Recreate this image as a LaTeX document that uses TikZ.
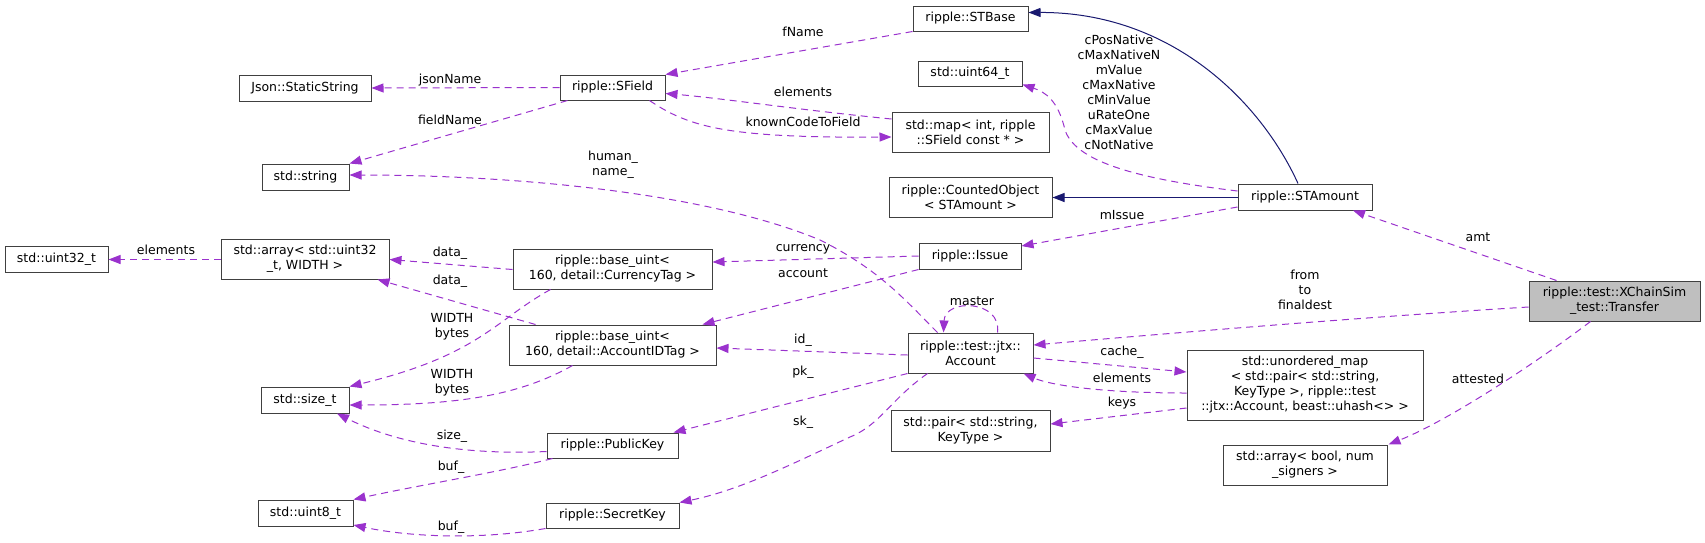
\documentclass[tikz,border=0pt]{standalone}
\usepackage{fontspec}
\setmainfont{DejaVu Sans}
\usetikzlibrary{arrows.meta}
\definecolor{cUse}{HTML}{9A32CD}
\definecolor{cInh}{HTML}{191970}
\definecolor{cBox}{HTML}{404040}
\definecolor{cSel}{HTML}{BFBFBF}
\tikzset{
  cls/.style={draw=cBox,line width=1pt,fill=white,inner sep=0pt,align=center,font=\fontsize{12.5}{15}\selectfont},
  lbl/.style={inner sep=0pt,align=center,font=\fontsize{12.5}{15}\selectfont},
  use/.style={cUse,line width=1pt,dash pattern=on 7pt off 5pt,-{Triangle[length=12pt,width=9pt]}},
  inh/.style={cInh,line width=1pt,-{Triangle[length=12pt,width=9pt]}}}
\newcommand{\cls}[5][]{\node[cls,minimum width=#3pt,minimum height=#4pt,#1] (#2) at (#5)}

\begin{document}
\begin{tikzpicture}[x=1pt,y=-1pt]
  \useasboundingbox (0,0) rectangle (1705,542);
  % class boxes, pixel positions
  \cls{json}{132}{26}{305,88} {Json::StaticString};
  \cls{sfield}{105}{25}{612.5,87.5} {ripple::SField};
  \cls{stbase}{115}{25}{970.5,18.5} {ripple::STBase};
  \cls{uint64}{104}{25}{970,73.5} {std::uint64\_t};
  \cls{stdmap}{157}{40}{970.5,132} {std::map< int, ripple\\::SField const * >};
  \cls{counted}{163}{40}{970.5,197} {ripple::CountedObject\\< STAmount >};
  \cls{stamount}{134}{26}{1305,197} {ripple::STAmount};
  \cls{issue}{102}{26}{970,256} {ripple::Issue};
  \cls{stdstring}{87}{26}{305.5,177} {std::string};
  \cls{uint32}{103}{26}{56.5,259} {std::uint32\_t};
  \cls{array32}{168}{40}{305,259} {std::array< std::uint32\\\_t, WIDTH >};
  \cls{currency}{199}{40}{612.5,269} {ripple::base\_uint<\\160, detail::CurrencyTag >};
  \cls{accountid}{207}{40}{612.5,345} {ripple::base\_uint<\\160, detail::AccountIDTag >};
  \cls{sizet}{88}{26}{305,400} {std::size\_t};
  \cls{uint8}{95}{26}{305.5,513} {std::uint8\_t};
  \cls{pubkey}{131}{25}{612.5,445.5} {ripple::PublicKey};
  \cls{seckey}{133}{25}{612.5,515.5} {ripple::SecretKey};
  \cls{account}{125}{40}{970.5,353} {ripple::test::jtx::\\Account};
  \cls{pair}{159}{41}{970.5,430.5} {std::pair< std::string,\\KeyType >};
  \cls{umap}{236}{70}{1305,385} {std::unordered\_map\\< std::pair< std::string,\\KeyType >, ripple::test\\::jtx::Account, beast::uhash<> >};
  \cls[fill=cSel]{transfer}{171}{40}{1614.5,301} {ripple::test::XChainSim\\\_test::Transfer};
  \cls{arrbool}{164}{40}{1305,465} {std::array< bool, num\\\_signers >};

  % inheritance
  \draw[inh] ([xshift=-7pt]stamount.north) .. controls (1260,100) and (1170,12) .. ([yshift=6pt]stbase.east);
  \draw[inh] ([yshift=-0.5pt]stamount.west) -- ([yshift=-0.5pt]counted.east);

  % members
  \draw[use] (stbase.south west) -- (sfield.north east);
  \draw[use] (sfield.west) -- (json.east);
  \draw[use] ([xshift=8pt]sfield.south west) -- (stdstring.north east);
  \draw[use] ([yshift=13pt]stdmap.west) .. controls (800,110) and (720,98) .. ([yshift=-6pt]sfield.east);
  \draw[use] ([xshift=37pt]sfield.south) .. controls (690,128) and (730,138) .. ([yshift=-5pt]stdmap.west);
  \draw[use] ([yshift=6pt]stamount.west) .. controls (1130,178) and (1075,160) .. (1065,130)
    .. controls (1058,100) and (1045,92) .. ([yshift=-11pt]uint64.east);
  \draw[use] ([yshift=-10pt]stamount.west) -- ([yshift=10pt]issue.east);
  \draw[use] ([xshift=-58pt]transfer.north) -- ([xshift=48pt]stamount.south);
  \draw[use] (issue.west) -- ([yshift=7pt]currency.east);
  \draw[use] (issue.south west) -- ([xshift=-14pt]accountid.north east);
  \draw[use] ([yshift=-0.5pt]currency.west) -- ([yshift=-0.5pt]array32.east);
  \draw[use] ([xshift=-77pt]accountid.north) -- ([xshift=-12pt]array32.south east);
  \draw[use] ([xshift=-62pt]currency.south) .. controls (495,320) and (480,355) .. (sizet.north east);
  \draw[use] ([xshift=-40pt]accountid.south) .. controls (520,395) and (460,405) .. ([yshift=-5pt]sizet.east);
  \draw[use] ([yshift=-6pt]pubkey.west) .. controls (470,455) and (400,445) .. ([xshift=32pt]sizet.south);
  \draw[use] ([xshift=6pt]pubkey.south west) .. controls (500,472) and (420,485) .. (uint8.north east);
  \draw[use] (seckey.south west) .. controls (480,540) and (410,537) .. ([yshift=-12pt]uint8.east);
  \draw[use] ([xshift=-33pt]account.north) .. controls (905,300) and (880,270) .. (820,240)
    .. controls (700,190) and (500,175) .. ([yshift=2pt]stdstring.east);
  \draw[use] ([yshift=-2pt]account.west) -- ([yshift=-3pt]accountid.east);
  \draw[use] (account.south west) -- ([xshift=-5pt]pubkey.north east);
  \draw[use] ([xshift=-43pt]account.south) .. controls (890,400) and (880,425) .. (850,437)
    .. controls (790,465) and (740,490) .. (seckey.north east);
  \draw[use] ([xshift=27pt]account.north) .. controls (1002,300) and (945,298) .. ([xshift=-27pt]account.north);
  \draw[use] ([yshift=-5pt]account.east) -- ([yshift=13pt]umap.west);
  \draw[use] ([yshift=-8pt]umap.west) .. controls (1100,393) and (1050,385) .. ([xshift=-10pt]account.south east);
  \draw[use] ([yshift=-23pt]umap.west) -- ([yshift=6.5pt]pair.east);
  \draw[use] ([yshift=-6pt]transfer.west) .. controls (1350,318) and (1150,335) .. ([yshift=8pt]account.east);
  \draw[use] ([xshift=-24pt]transfer.south) .. controls (1540,360) and (1450,420) .. ([xshift=1pt]arrbool.north east);
  \draw[use] ([yshift=-0.5pt]array32.west) -- ([yshift=-0.5pt]uint32.east);

  % edge labels
  \node[lbl] (l-fname) at (803,32) {fName};
  \node[lbl] (l-json) at (450,80) {jsonName};
  \node[lbl] (l-field) at (450,120) {fieldName};
  \node[lbl] (l-elem1) at (803,92) {elements};
  \node[lbl] (l-known) at (803,122) {knownCodeToField};
  \node[lbl] (l-native) at (1119,92) {cPosNative\\cMaxNativeN\\mValue\\cMaxNative\\cMinValue\\uRateOne\\cMaxValue\\cNotNative};
  \node[lbl] (l-issue) at (1122,215) {mIssue};
  \node[lbl] (l-amt) at (1478,237) {amt};
  \node[lbl] (l-cur) at (803,249) {currency};
  \node[lbl] (l-acc) at (803,273) {account};
  \node[lbl] (l-data1) at (450,253) {data\_};
  \node[lbl] (l-data2) at (450,281) {data\_};
  \node[lbl] (l-width1) at (452,327) {WIDTH\\bytes};
  \node[lbl] (l-width2) at (452,383) {WIDTH\\bytes};
  \node[lbl] (l-size) at (452,436) {size\_};
  \node[lbl] (l-buf1) at (451,467) {buf\_};
  \node[lbl] (l-buf2) at (451,527) {buf\_};
  \node[lbl] (l-human) at (613,165) {human\_\\name\_};
  \node[lbl] (l-id) at (803,340) {id\_};
  \node[lbl] (l-pk) at (803,372) {pk\_};
  \node[lbl] (l-sk) at (803,422) {sk\_};
  \node[lbl] (l-master) at (972,301) {master};
  \node[lbl] (l-cache) at (1122,352) {cache\_};
  \node[lbl] (l-elem2) at (1122,378) {elements};
  \node[lbl] (l-keys) at (1122,403) {keys};
  \node[lbl] (l-from) at (1305,290) {from\\to\\finaldest};
  \node[lbl] (l-att) at (1478,379) {attested};
  \node[lbl] (l-elem3) at (166,250) {elements};
\end{tikzpicture}
\end{document}
